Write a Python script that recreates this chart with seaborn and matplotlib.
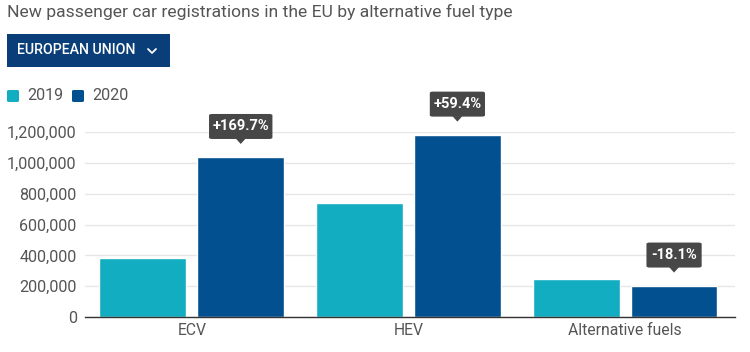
import matplotlib
matplotlib.use("Agg")
import matplotlib.pyplot as plt
import seaborn as sns
import pandas as pd
from matplotlib.patches import FancyBboxPatch, Polygon, Rectangle
from matplotlib.lines import Line2D
from matplotlib.ticker import FuncFormatter

categories = ["ECV", "HEV", "Alternative fuels"]
years = ["2019", "2020"]
values_2019 = [385000, 741000, 249000]
values_2020 = [1038000, 1183000, 204000]
changes = ["+169.7%", "+59.4%", "-18.1%"]
yticks = [0, 200000, 400000, 600000, 800000, 1000000, 1200000]
colors = {"2019": "#12ADC1", "2020": "#02508F"}

df = pd.DataFrame({
    "category": categories * 2,
    "year": ["2019"] * 3 + ["2020"] * 3,
    "value": values_2019 + values_2020,
})

sns.set_theme(style="white")
plt.rcParams["font.family"] = ["Roboto", "DejaVu Sans"]

fig = plt.figure(figsize=(7.5, 3.52), dpi=100)
ax = fig.add_axes([85 / 750, 1 - 317 / 352, 650 / 750, 185 / 352])

sns.barplot(data=df, x="category", y="value", hue="year", order=categories,
            hue_order=years, palette=colors, width=0.903, gap=0.112,
            saturation=1, ax=ax, legend=False)

ax.set_xlim(-0.493, 2.507)
ax.set_ylim(0, 1200000)
ax.set_yticks(yticks)
ax.yaxis.set_major_formatter(FuncFormatter(lambda v, p: f"{int(v):,}"))
ax.set_xlabel("")
ax.set_ylabel("")
ax.grid(axis="y", color="#e6e6e6", linewidth=1)
ax.set_axisbelow(True)
for s in ["top", "right", "left"]:
    ax.spines[s].set_visible(False)
ax.spines["bottom"].set_color("#333333")
ax.spines["bottom"].set_linewidth(1)
ax.tick_params(axis="y", length=0, labelsize=11.6, labelcolor="#555555", pad=6)
ax.tick_params(axis="x", length=0, labelsize=11.3, labelcolor="#555555", pad=4)

# tooltips above the 2020 bars
bars_2020 = ax.containers[1]
inv = fig.transFigure.inverted()
for bar, txt in zip(bars_2020, changes):
    cx = bar.get_x() + bar.get_width() / 2
    top = bar.get_height()
    px, py = ax.transData.transform((cx, top))
    tip_y = py + 13
    box_bottom = tip_y + 5
    box_h = 25
    w = 8.2 * len(txt) + 6
    bx0, by0 = inv.transform((px - w / 2, box_bottom))
    bx1, by1 = inv.transform((px + w / 2, box_bottom + box_h))
    box = FancyBboxPatch((bx0, by0), bx1 - bx0, by1 - by0,
                         boxstyle="round,pad=0,rounding_size=0.004",
                         transform=fig.transFigure, facecolor="#474747",
                         edgecolor="none", zorder=5)
    fig.patches.append(box)
    t1 = inv.transform((px - 5, box_bottom + 0.5))
    t2 = inv.transform((px + 5, box_bottom + 0.5))
    t3 = inv.transform((px, tip_y))
    fig.patches.append(Polygon([t1, t2, t3], closed=True, transform=fig.transFigure,
                               facecolor="#474747", edgecolor="none", zorder=5))
    cxf, cyf = inv.transform((px, box_bottom + box_h / 2))
    fig.text(cxf, cyf, txt, color="white", fontsize=10.5, fontweight="bold",
             ha="center", va="center", zorder=6)

# title
fig.text(7 / 750, 1 - 12 / 352, "New passenger car registrations in the EU by alternative fuel type",
         fontsize=12.6, color="#555555", ha="left", va="center")

# dropdown button
fig.patches.append(Rectangle((7 / 750, 1 - 67 / 352), 163 / 750, 33 / 352,
                             transform=fig.transFigure, facecolor="#0A3E78",
                             edgecolor="none"))
fig.text(17 / 750, 1 - 50.5 / 352, "EUROPEAN UNION", fontsize=10.2, fontweight="medium",
         color="white", ha="left", va="center")
fig.lines.append(Line2D([148 / 750, 152 / 750, 156 / 750],
                        [1 - 49 / 352, 1 - 53 / 352, 1 - 49 / 352],
                        transform=fig.transFigure, color="white", linewidth=1.3))

# legend
for x0, lab in [(7, "2019"), (72, "2020")]:
    fig.patches.append(FancyBboxPatch((x0 / 750, 1 - 102 / 352), 12 / 750, 12 / 352,
                                      boxstyle="round,pad=0,rounding_size=0.003",
                                      transform=fig.transFigure, facecolor=colors[lab],
                                      edgecolor="none"))
    fig.text((x0 + 20) / 750, 1 - 96 / 352, lab, fontsize=11.6, color="#555555",
             ha="left", va="center")

fig.savefig("out.png", dpi=100, facecolor="white")
